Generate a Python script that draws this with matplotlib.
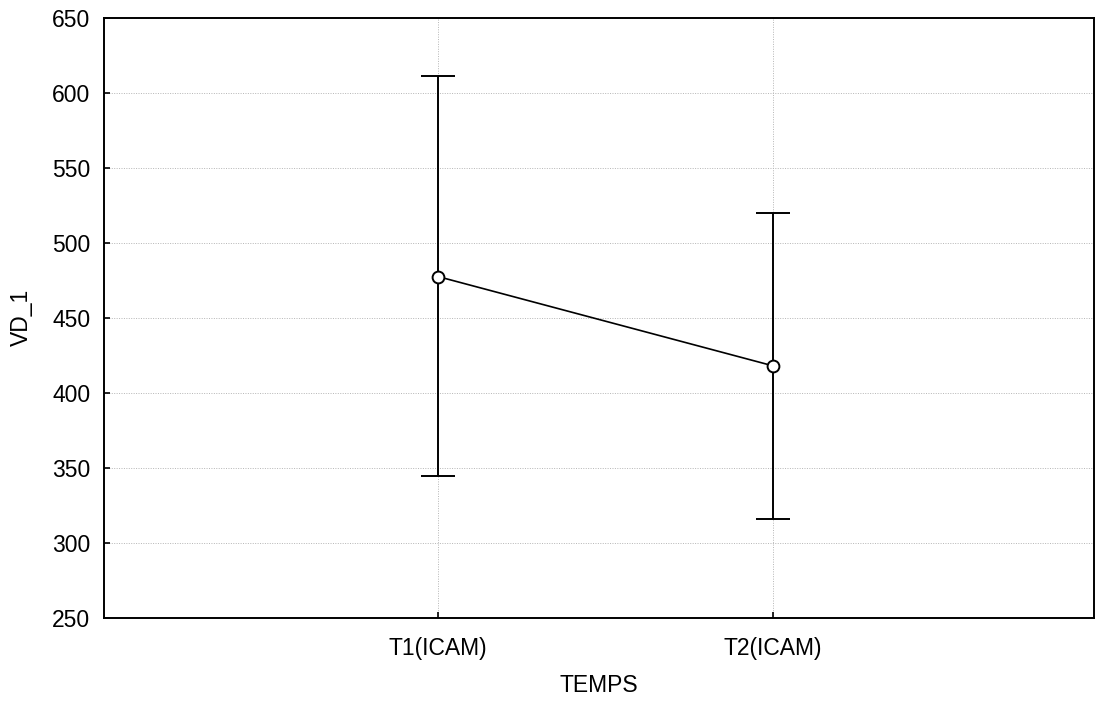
import numpy as np
import matplotlib.pyplot as plt

# donnees
temps = ["T1(ICAM)", "T2(ICAM)"]
moyenne = [477.5, 418.0]
borne_haut = [611.4, 519.7]
borne_bas = [344.8, 315.8]

plt.rcParams['font.family'] = ['Liberation Sans', 'DejaVu Sans']

fig = plt.figure(figsize=(11.02, 7.02), dpi=100)
ax = fig.add_axes([0.0944, 0.1197, 0.8983, 0.8551])

x = np.arange(1, len(temps) + 1)
moy = np.array(moyenne)
err = [moy - np.array(borne_bas), np.array(borne_haut) - moy]

ax.errorbar(x, moy, yerr=err, fmt='-o', color='black', lw=1.2,
            elinewidth=1.4, capsize=12, capthick=1.6,
            markersize=8.5, markerfacecolor='white', markeredgecolor='black',
            markeredgewidth=1.4, zorder=3)

ax.set_xlim(0.003, 2.958)
ax.set_ylim(250, 650)
ax.set_xticks(x)
ax.set_xticklabels(temps)
ax.set_yticks(np.arange(250, 651, 50))

ax.grid(True, color='#b5b5b5', linestyle=(0, (1, 1.5)), linewidth=0.7)
ax.tick_params(direction='in', length=4, width=1.2, labelsize=16.5, pad=10)
ax.tick_params(axis='x', pad=14)
for s in ax.spines.values():
    s.set_linewidth(1.4)

ax.set_xlabel("TEMPS", fontsize=16.5, labelpad=10)
ax.set_ylabel("VD_1", fontsize=16.5, labelpad=14)

fig.savefig("out.png", dpi=100)
